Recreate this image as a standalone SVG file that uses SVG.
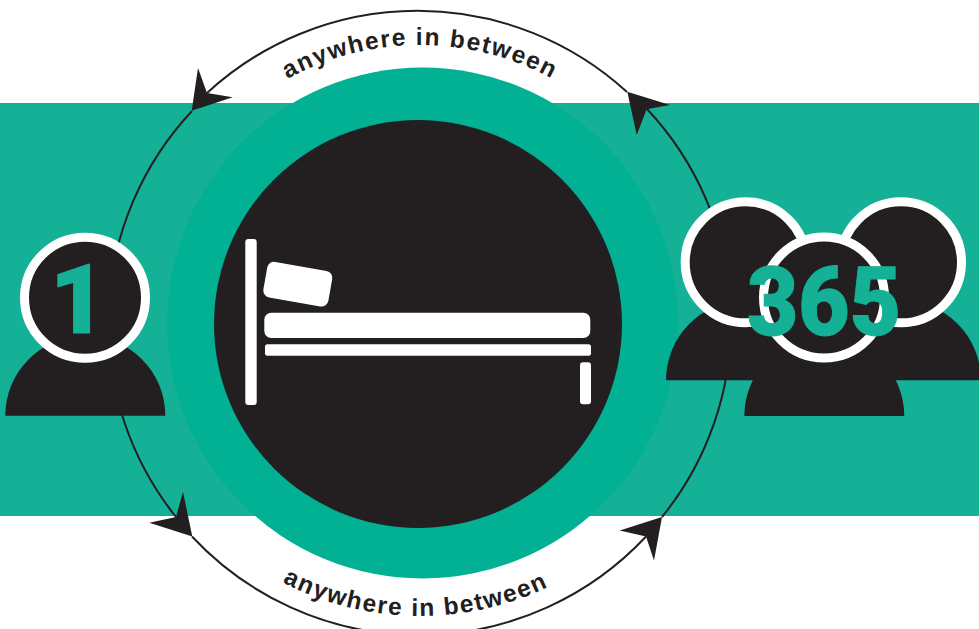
<svg xmlns="http://www.w3.org/2000/svg" width="979" height="629" viewBox="0 0 979 629">
<style>
.k{fill:#231f20}
.w{fill:#fff}
.head{fill:#231f20;stroke:#fff;stroke-width:9}
.arc{fill:none;stroke:#231f20;stroke-width:2}
.lab{font-family:"Liberation Sans",Arial,sans-serif;font-weight:700;font-size:24.5px;letter-spacing:1.6px;fill:#231f20;text-anchor:middle}
.num{font-family:"Roboto","Liberation Sans",sans-serif;font-weight:900;fill:#14b197;stroke:#14b197;stroke-width:1;text-anchor:middle}
</style>
<defs>
<path id="topArc" d="M144 321A276 276 0 0 1 696 321"/>
<path id="botArc" d="M122 318A298 298 0 0 0 718 318"/>
</defs>
<rect width="979" height="629" fill="#fff"/>
<rect id="band" x="0" y="103" width="979" height="413" fill="#14b197"/>
<circle id="disc" cx="422.5" cy="323" r="255.5" fill="#02b094"/>
<g id="connectors">
<path class="arc" d="M627 92A310.6 310.6 0 0 0 207 93"/>
<path class="arc" d="M192 111A310.6 310.6 0 0 0 176 517"/>
<path class="arc" d="M192 536.5A310.6 310.6 0 0 0 646 536.5"/>
<path class="arc" d="M662 517A310.6 310.6 0 0 0 647 109"/>
<polygon class="k" points="191.7,110.7 198,68 207,93 232.7,97.3"/>
<polygon class="k" points="627.3,91.7 670,105 646.7,109.3 636.7,135"/>
<polygon class="k" points="192.3,536.5 149.3,522.7 176,517 183,491.7"/>
<polygon class="k" points="662,516.9 619.7,530.6 646,536.5 654,560.6"/>
</g>
<g id="bed-disc">
<circle class="k" cx="418" cy="324" r="204"/>
<rect class="w" x="245.3" y="239" width="11.4" height="166" rx="3"/>
<rect class="w" x="264.8" y="266.2" width="66" height="36" rx="7" transform="rotate(10 297.8 284.2)"/>
<rect class="w" x="264.3" y="312.7" width="326" height="25.3" rx="7"/>
<rect class="w" x="265" y="344.3" width="326" height="11.4" rx="2.5"/>
<rect class="w" x="580" y="362.3" width="11" height="42" rx="3"/>
</g>
<g id="label-top"><text class="lab"><textPath href="#topArc" startOffset="50%">anywhere in between</textPath></text></g>
<g id="label-bottom"><text class="lab"><textPath href="#botArc" startOffset="49.5%">anywhere in between</textPath></text></g>
<g id="person-one">
<path class="k" d="M5.3 415.7A80 80 0 0 1 165.3 415.7Z"/>
<circle class="head" cx="85" cy="297.7" r="60.5"/>
<text class="num" x="78" y="333" font-size="97">1</text>
</g>
<g id="people-365">
<path class="k" d="M666 380.3A80 80 0 0 1 826 380.3Z"/>
<circle class="head" cx="745.7" cy="262.3" r="60.5"/>
<path class="k" d="M821 380.3A80 80 0 0 1 981 380.3Z"/>
<circle class="head" cx="901" cy="262.3" r="60.5"/>
<path class="k" d="M744.3 416A80 80 0 0 1 904.3 416Z"/>
<circle class="head" cx="824" cy="297.5" r="60.5"/>
<text class="num" x="824" y="335" font-size="96" textLength="154" lengthAdjust="spacingAndGlyphs">365</text>
</g>
</svg>
